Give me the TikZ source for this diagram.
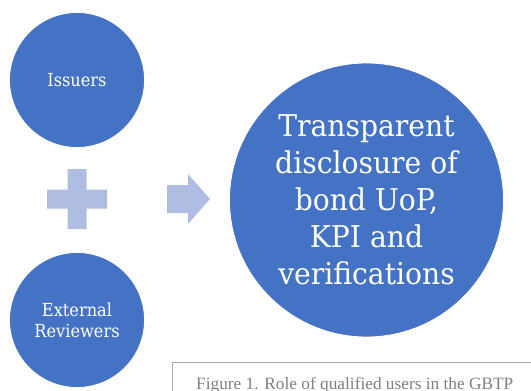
\documentclass[tikz,border=0pt]{standalone}
\usepackage{fontspec}
\setmainfont{Liberation Serif}
\newfontfamily\slabfont[FakeStretch=0.9]{DejaVu Serif}
\newfontfamily\wideslabfont[FakeStretch=0.94]{DejaVu Serif}
\definecolor{discblue}{RGB}{68,114,196}
\definecolor{paleblue}{RGB}{176,189,226}
\definecolor{capgray}{RGB}{128,128,128}
\definecolor{boxgray}{RGB}{170,170,170}
\begin{document}
\begin{tikzpicture}[x=1pt, y=-1pt,
  disc/.style={circle, fill=discblue, draw=white, line width=0.8pt,
    inner sep=0pt, text=white, align=center},
  smalltext/.style={font=\slabfont\fontsize{18}{21}\selectfont},
  bigtext/.style={font=\wideslabfont\fontsize{30}{37}\selectfont},
  sign/.style={fill=paleblue, draw=none}]
\useasboundingbox (0,0) rectangle (531,391);

% the two contributing parties
\node[disc, smalltext, minimum size=135pt] (issuers) at (77,80) {Issuers};
\node[disc, smalltext, minimum size=135pt] (reviewers) at (77,320) {External\\Reviewers};

% the outcome
\node[disc, bigtext, minimum size=274pt] (disclosure) at (366.5,200)
  {Transparent\\disclosure of\\bond UoP,\\KPI and\\verifications};

% plus sign between the parties
\fill[sign] (47,189.5) -- (67.5,189.5) -- (67.5,169) -- (86.5,169)
  -- (86.5,189.5) -- (107,189.5) -- (107,208.5) -- (86.5,208.5)
  -- (86.5,229) -- (67.5,229) -- (67.5,208.5) -- (47,208.5) -- cycle;

% block arrow towards the outcome
\fill[sign] (167,185) -- (188,185) -- (188,174) -- (210,199)
  -- (188,224) -- (188,213) -- (167,213) -- cycle;

% caption frame
\draw[boxgray, line width=0.8pt] (172,395) -- (172,362) -- (540,362);
\node[anchor=base west, inner sep=0pt, text=capgray,
  font=\fontsize{17.3}{20}\selectfont] (caption) at (196,389)
  {Figure 1. Role of qualified users in the GBTP};
\end{tikzpicture}
\end{document}
